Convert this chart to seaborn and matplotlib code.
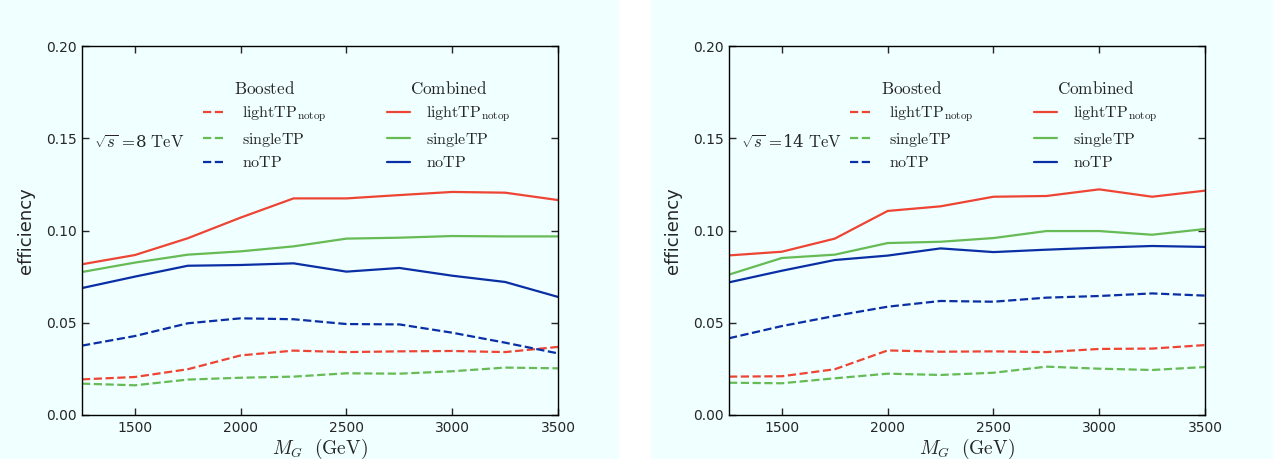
import numpy as np
import pandas as pd
import matplotlib
matplotlib.use("Agg")
import matplotlib.pyplot as plt
from matplotlib.patches import Rectangle
from matplotlib.lines import Line2D
from matplotlib.legend import Legend
import seaborn as sns

# ---- data ----
mass = [1250, 1500, 1750, 2000, 2250, 2500, 2750, 3000, 3250, 3500]

# 8 TeV
b8_light = [0.0193, 0.0206, 0.0248, 0.0323, 0.0349, 0.0341, 0.0345, 0.0347, 0.0341, 0.0369]
b8_single = [0.0170, 0.0161, 0.0192, 0.0202, 0.0208, 0.0226, 0.0224, 0.0237, 0.0257, 0.0253]
b8_no = [0.0376, 0.0428, 0.0497, 0.0524, 0.0519, 0.0493, 0.0491, 0.0446, 0.0392, 0.0334]
c8_light = [0.0817, 0.0867, 0.0958, 0.1070, 0.1174, 0.1174, 0.1192, 0.1209, 0.1205, 0.1165]
c8_single = [0.0775, 0.0826, 0.0869, 0.0887, 0.0914, 0.0956, 0.0961, 0.0970, 0.0968, 0.0968]
c8_no = [0.0688, 0.0750, 0.0809, 0.0813, 0.0822, 0.0777, 0.0797, 0.0755, 0.0721, 0.0640]

# 14 TeV
b14_light = [0.0208, 0.0210, 0.0248, 0.0350, 0.0343, 0.0345, 0.0341, 0.0358, 0.0360, 0.0379]
b14_single = [0.0175, 0.0172, 0.0199, 0.0224, 0.0217, 0.0229, 0.0262, 0.0251, 0.0244, 0.0260]
b14_no = [0.0416, 0.0482, 0.0537, 0.0587, 0.0618, 0.0614, 0.0636, 0.0645, 0.0659, 0.0647]
c14_light = [0.0865, 0.0885, 0.0956, 0.1106, 0.1131, 0.1183, 0.1187, 0.1223, 0.1183, 0.1216]
c14_single = [0.0761, 0.0851, 0.0869, 0.0932, 0.0939, 0.0959, 0.0997, 0.0997, 0.0977, 0.1008]
c14_no = [0.0719, 0.0782, 0.0840, 0.0864, 0.0903, 0.0883, 0.0896, 0.0907, 0.0916, 0.0911]

series_names = ["lightTP", "singleTP", "noTP"]
series_labels = [r"$\mathrm{lightTP}_{\mathrm{notop}}$", r"$\mathrm{singleTP}$", r"$\mathrm{noTP}$"]
energies = ["8", "14"]
x_ticks = [1500, 2000, 2500, 3000, 3500]
y_ticks = [0.00, 0.05, 0.10, 0.15, 0.20]

panels = {
    "8": {"Boosted": [b8_light, b8_single, b8_no], "Combined": [c8_light, c8_single, c8_no]},
    "14": {"Boosted": [b14_light, b14_single, b14_no], "Combined": [c14_light, c14_single, c14_no]},
}

colors = ["#EE4433", "#66BB55", "#0A2FA5"]
bg = "#F0FFFF"

sns.set_style("ticks")
plt.rcParams["mathtext.fontset"] = "cm"
plt.rcParams["font.family"] = ["DejaVu Sans"]

fig = plt.figure(figsize=(12.73, 4.59), dpi=100, facecolor="white")
W, H = 1273, 459
fig.patches.append(Rectangle((0, 0), 619 / W, 1, transform=fig.transFigure,
                             facecolor=bg, edgecolor="none", zorder=-10))
fig.patches.append(Rectangle((651 / W, 0), 1 - 651 / W, 1, transform=fig.transFigure,
                             facecolor=bg, edgecolor="none", zorder=-10))

ax_lefts = [82, 729]
for e, axl in zip(energies, ax_lefts):
    ax = fig.add_axes([axl / W, (459 - 415) / H, 476 / W, 369 / H])
    ax.set_facecolor(bg)
    for group, style in [("Boosted", "--"), ("Combined", "-")]:
        for name, col, vals in zip(series_names, colors, panels[e][group]):
            df = pd.DataFrame({"mass": mass, "eff": vals})
            sns.lineplot(data=df, x="mass", y="eff", ax=ax, color=col,
                         linestyle=style, linewidth=1.6, legend=False)
    ax.set_xlim(1250, 3500)
    ax.set_ylim(0, 0.20)
    ax.set_xticks(x_ticks)
    ax.set_yticks(y_ticks)
    ax.set_yticklabels([f"{v:.2f}" for v in y_ticks])
    ax.tick_params(direction="in", top=True, right=True, length=5, width=1, labelsize=10, pad=4)
    for sp in ax.spines.values():
        sp.set_visible(True)
        sp.set_linewidth(1.0)
        sp.set_color("black")
    ax.set_xlabel(r"$M_G\ \ (\mathrm{GeV})$", fontsize=14, labelpad=2)
    ax.set_ylabel("efficiency", fontsize=13, labelpad=8)
    ax.text(0.025, 0.735, r"$\sqrt{s}\,=\!$" + e + r"$\ \mathrm{TeV}$", transform=ax.transAxes,
            fontsize=12, va="center", ha="left", family="serif",
            math_fontfamily="cm")

    for group, style, xa in [("Boosted", "--", 0.224), ("Combined", "-", 0.611)]:
        handles = [Line2D([0], [0], color=c, linestyle=style, linewidth=1.6) for c in colors]
        leg = Legend(ax, handles, series_labels, title=r"$\mathrm{" + group + "}$",
                     loc="upper left", bbox_to_anchor=(xa, 0.948), frameon=False,
                     fontsize=11.5, title_fontsize=12.3, handlelength=1.45,
                     handletextpad=1.0, labelspacing=0.42)
        ax.add_artist(leg)

fig.savefig("out.png", dpi=100, facecolor=fig.get_facecolor())
